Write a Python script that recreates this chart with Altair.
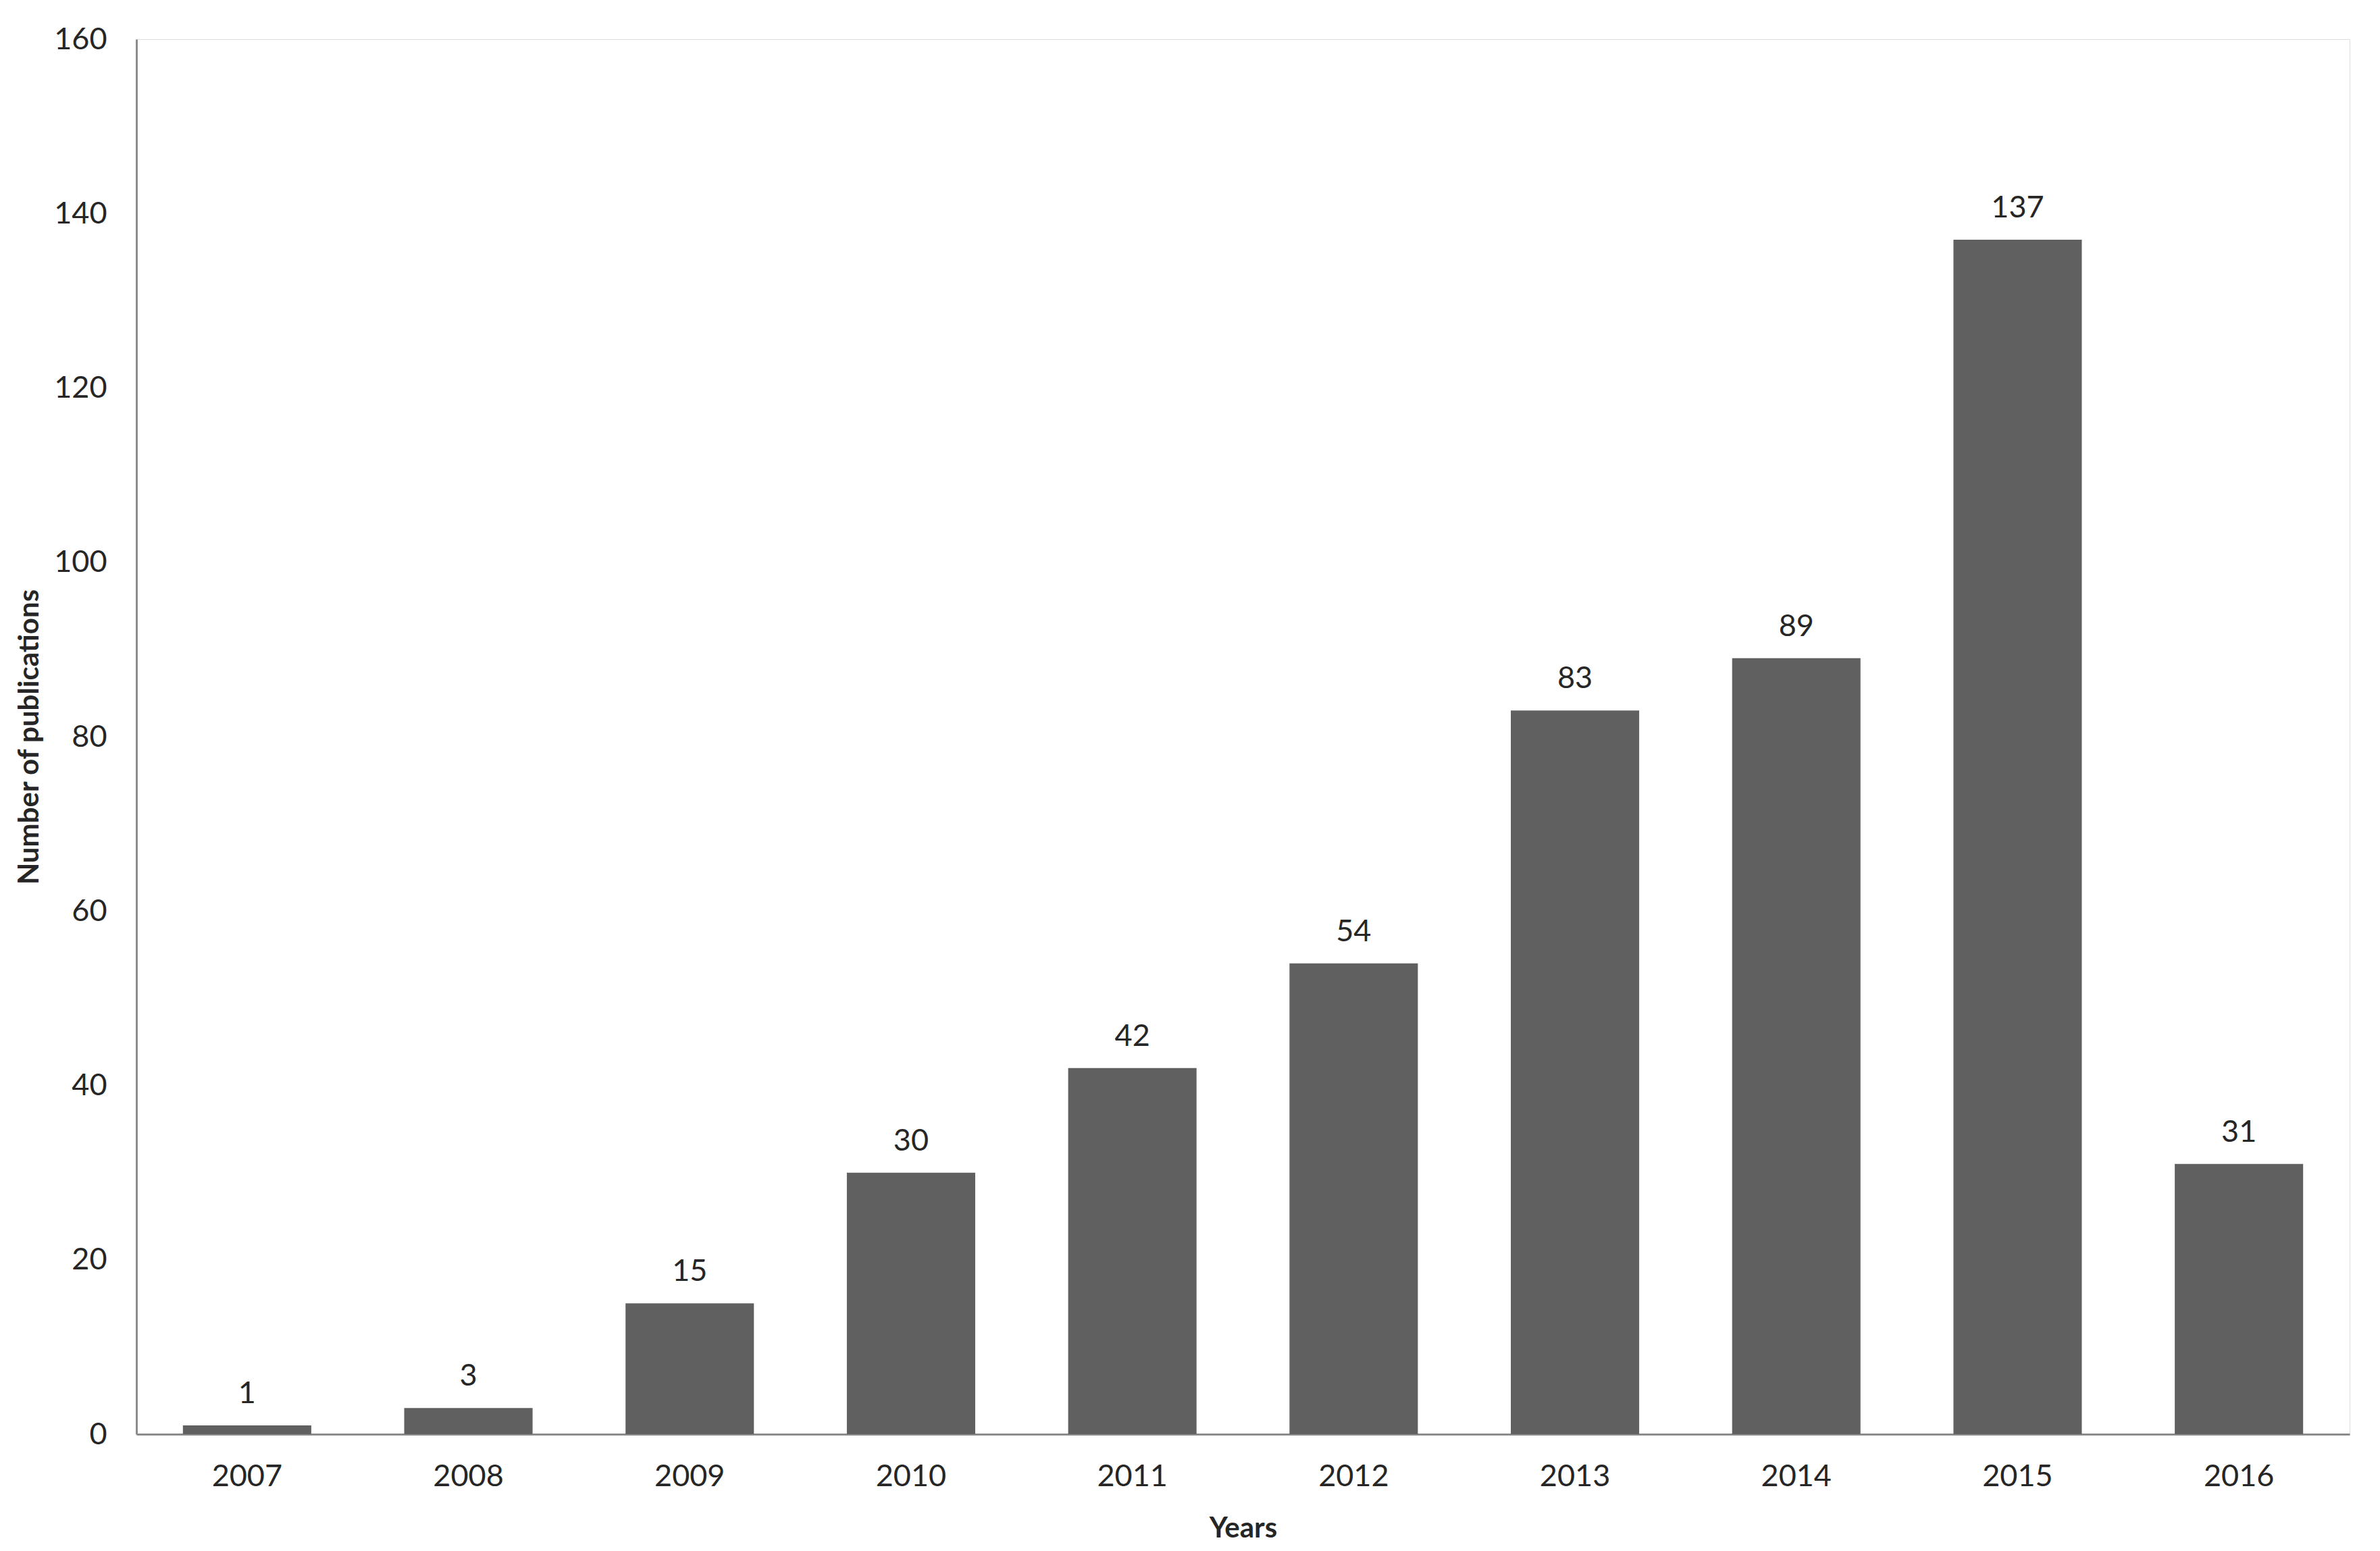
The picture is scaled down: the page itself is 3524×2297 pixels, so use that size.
import altair as alt
import pandas as pd

years = ["2007", "2008", "2009", "2010", "2011", "2012", "2013", "2014", "2015", "2016"]
counts = [1, 3, 15, 30, 42, 54, 83, 89, 137, 31]

df = pd.DataFrame({"Year": years, "Count": counts})

FONT = "Lato"
TEXT = "#262626"
AXIS = "#8c8c8c"
BAR = "#606060"

x = alt.X(
    "Year:N",
    sort=years,
    scale=alt.Scale(paddingInner=0.42, paddingOuter=0.21),
    axis=alt.Axis(
        title="Years",
        labelAngle=0,
        ticks=False,
        labelPadding=40,
        titlePadding=34,
        labelFontSize=45,
        titleFontSize=42,
        titleFontWeight="bold",
        labelFont=FONT,
        titleFont=FONT,
        labelColor=TEXT,
        titleColor=TEXT,
        domainColor=AXIS,
        domainWidth=3,
    ),
)
y = alt.Y(
    "Count:Q",
    scale=alt.Scale(domain=[0, 160]),
    axis=alt.Axis(
        title="Number of publications",
        values=[0, 20, 40, 60, 80, 100, 120, 140, 160],
        grid=False,
        ticks=False,
        labelPadding=44,
        titlePadding=14,
        labelFontSize=45,
        titleFontSize=42,
        titleFontWeight="bold",
        labelFont=FONT,
        titleFont=FONT,
        labelColor=TEXT,
        titleColor=TEXT,
        domainColor=AXIS,
        domainWidth=3,
    ),
)

bars = alt.Chart(df).mark_bar(color=BAR).encode(x=x, y=y)
labels = alt.Chart(df).mark_text(
    dy=-33, baseline="alphabetic", font=FONT, fontSize=45, color=TEXT
).encode(x=x, y=y, text="Count:Q")

chart = (
    (bars + labels)
    .properties(
        width=3277,
        height=2066,
        autosize=alt.AutoSizeParams(type="none"),
        padding={"left": 194, "top": 50, "right": 37, "bottom": 160},
    )
    .configure_view(stroke=None)
    .configure(background="white")
)

chart.save("out.html", embed_options={"renderer": "svg", "actions": False})
